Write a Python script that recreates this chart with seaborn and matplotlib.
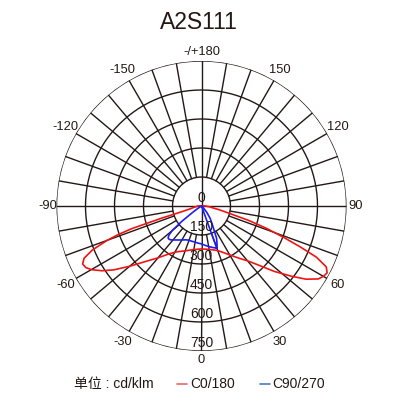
import numpy as np
import matplotlib
matplotlib.use('Agg')
import matplotlib.pyplot as plt
from matplotlib.lines import Line2D
import seaborn as sns

# ---------------- data ----------------
title = 'A2S111'
ring_values = [0, 150, 300, 450, 600, 750]
angle_ticks = [0, 30, 60, 90, 120, 150, 180, -150, -120, -90, -60, -30]
angle_labels = ['0', '30', '60', '90', '120', '150', '-/+180',
                '-150', '-120', '-90', '-60', '-30']
unit_label = '单位 : cd/klm'
series_names = ['C0/180', 'C90/270']

c0_angles = [-180, -120, -100, -90, -80, -76, -74, -73, -72, -71, -70, -68, -66,
             -64, -62, -60, -57, -54, -50, -46, -40, -34, -28, -20, -11, 0,
             10, 20, 26, 32, 36, 40, 44, 48, 52, 55, 58, 60, 62, 64, 66, 67.5,
             69, 71, 73, 75, 78, 80, 85, 90, 100, 120, 180]
c0_values = [0, 0, 8, 18, 40, 60, 100, 220, 380, 460, 520, 610, 665,
             684, 678, 658, 615, 562, 485, 418, 350, 298, 268, 247, 230, 222,
             228, 245, 270, 305, 335, 370, 425, 505, 590, 660, 712, 728, 736, 718, 650, 553,
             460, 357, 255, 155, 95, 65, 38, 20, 8, 0, 0]

c90_angles = [-180, -90, -60, -56, -54, -52, -50, -48, -46, -44, -42, -40, -38, -34,
              -30, -25, -21, -15, -10, -5, 0, 5, 10, 15, 20, 22, 25, 28, 31,
              35, 40, 45, 50, 90, 180, 18, 20]
c90_values = [0, 0, 5, 25, 60, 130, 198, 228, 240, 240, 236, 229, 223, 212,
              203, 193, 189, 189, 190, 193, 196, 204, 213, 222, 233, 215, 185, 135, 105,
              78, 42, 15, 0, 0, 0, 0, 233]

# ---------------- style ----------------
sns.set_style('white')
plt.rcParams['font.family'] = ['Liberation Sans', 'Noto Sans CJK SC', 'DejaVu Sans']

grid_color = '#231815'
red = '#f01414'
blue = '#1e1ef0'

fig = plt.figure(figsize=(4, 4), dpi=100)
ax = fig.add_axes([0.14125, 0.1225, 0.725, 0.725], projection='polar')
ax.set_theta_zero_location('S')
ax.set_theta_direction(1)
ax.grid(False)
ax.set_xticks([])
ax.set_yticks([])
ax.spines['polar'].set_visible(False)
ax.set_facecolor('white')

rmax = ring_values[-1]
full = np.linspace(0, 2 * np.pi, 361)
for v in ring_values[1:]:
    ax.plot(full, np.full_like(full, v), color=grid_color, lw=1.0, zorder=1)

for a in range(-170, 190, 10):
    t = np.deg2rad(a)
    r0 = 0 if a % 90 == 0 else ring_values[1]
    ax.plot([t, t], [r0, rmax], color=grid_color, lw=1.0, zorder=1)

# curves
sns.lineplot(x=np.deg2rad(c0_angles), y=c0_values, sort=False, estimator=None,
             ax=ax, color=red, lw=1.2, zorder=3)
sns.lineplot(x=np.deg2rad(c90_angles), y=c90_values, sort=False, estimator=None,
             ax=ax, color=blue, lw=1.2, zorder=4)

ax.set_ylim(0, rmax)
ax.set_xlabel('')
ax.set_ylabel('')

# angle labels
for a, lab in zip(angle_ticks, angle_labels):
    rr = rmax * (1.06 if a % 90 == 0 else 1.085)
    ax.text(np.deg2rad(a), rr, lab, ha='center', va='center', fontsize=9.3,
            color='#231815', clip_on=False)

# ring labels
for v in ring_values:
    ax.annotate(str(v), xy=(0, v), xytext=(0, 5.5), textcoords='offset points',
                ha='center', va='center', fontsize=10, color='#231815', zorder=5)

fig.text(0.4975, 0.944, title, ha='center', va='center', fontsize=16.5, color='#231815')

# legend
ly = 1 - 384 / 400
fig.text(0.185, ly, unit_label, ha='left', va='center', fontsize=10, color='#231815')
fig.add_artist(Line2D([0.4425, 0.4675], [ly, ly], color='#e8636b', lw=1.2))
fig.text(0.475, ly, series_names[0], ha='left', va='center', fontsize=10, color='#231815')
fig.add_artist(Line2D([0.65, 0.675], [ly, ly], color='#4a7bbf', lw=1.2))
fig.text(0.68, ly, series_names[1], ha='left', va='center', fontsize=10, color='#231815')

fig.savefig('out.png', dpi=100, facecolor='white')
